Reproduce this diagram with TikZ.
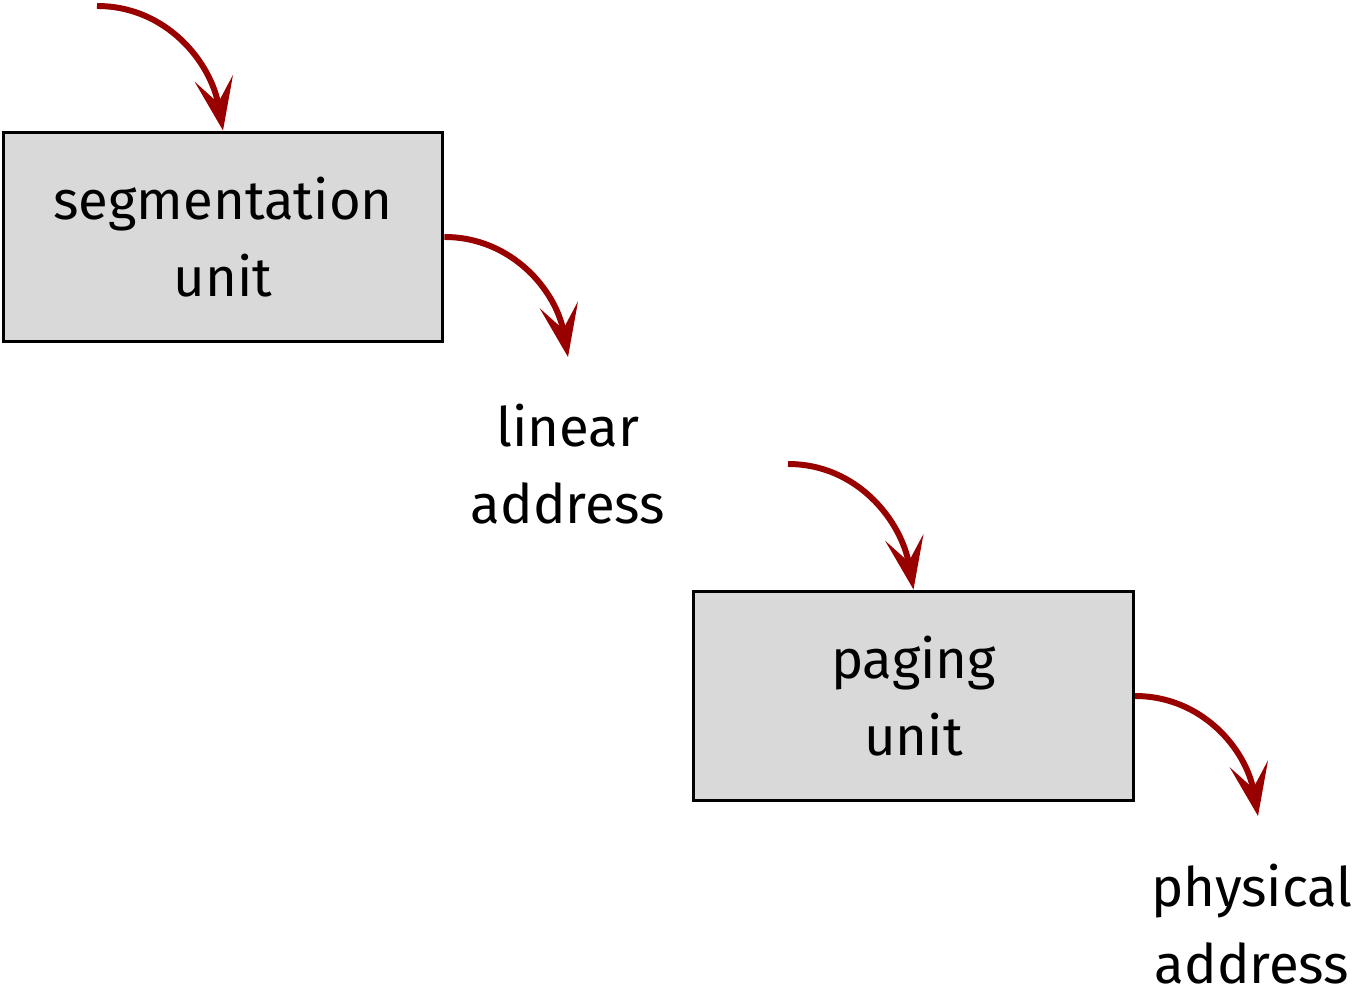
\documentclass[tikz,border=0pt]{standalone}
\usepackage{fontspec}
\setmainfont{Fira Sans}
\usetikzlibrary{arrows.meta}
\definecolor{flowred}{HTML}{990000}
\definecolor{unitgray}{HTML}{D9D9D9}
\begin{document}
\begin{tikzpicture}[x=0.02cm,y=-0.02cm,
  unitbox/.style={draw=black,line width=1.7pt,fill=unitgray,
    minimum width=8.8cm,minimum height=4.2cm,align=center,
    font=\fontsize{31}{43.5}\selectfont,inner sep=0pt},
  addrlabel/.style={align=center,font=\fontsize{31}{43.5}\selectfont,inner sep=0pt,anchor=north},
  flow/.style={draw=flowred,line width=3.4pt,
    -{Stealth[length=30pt,width=22pt,inset=14pt]}}]
\useasboundingbox (0,0) rectangle (1355,996);
\node[unitbox] (seg) at (223,237) {segmentation\\unit};
\node[unitbox] (pag) at (913.5,696) {paging\\unit};
\node[addrlabel] (lin) at (568,404) {linear\\address};
\node[addrlabel] (phys) at (1252,864) {physical\\address};
\coordinate (in1) at (97,6);
\coordinate (in2) at (788,464);
\coordinate (lintip) at (568,357);
\coordinate (phystip) at (1258,816);
\draw[flow] (in1) to[out=0,in=100] (seg.north);
\draw[flow] (seg.east) to[out=0,in=100] (lintip);
\draw[flow] (in2) to[out=0,in=100] (pag.north);
\draw[flow] (pag.east) to[out=0,in=100] (phystip);
\end{tikzpicture}
\end{document}
